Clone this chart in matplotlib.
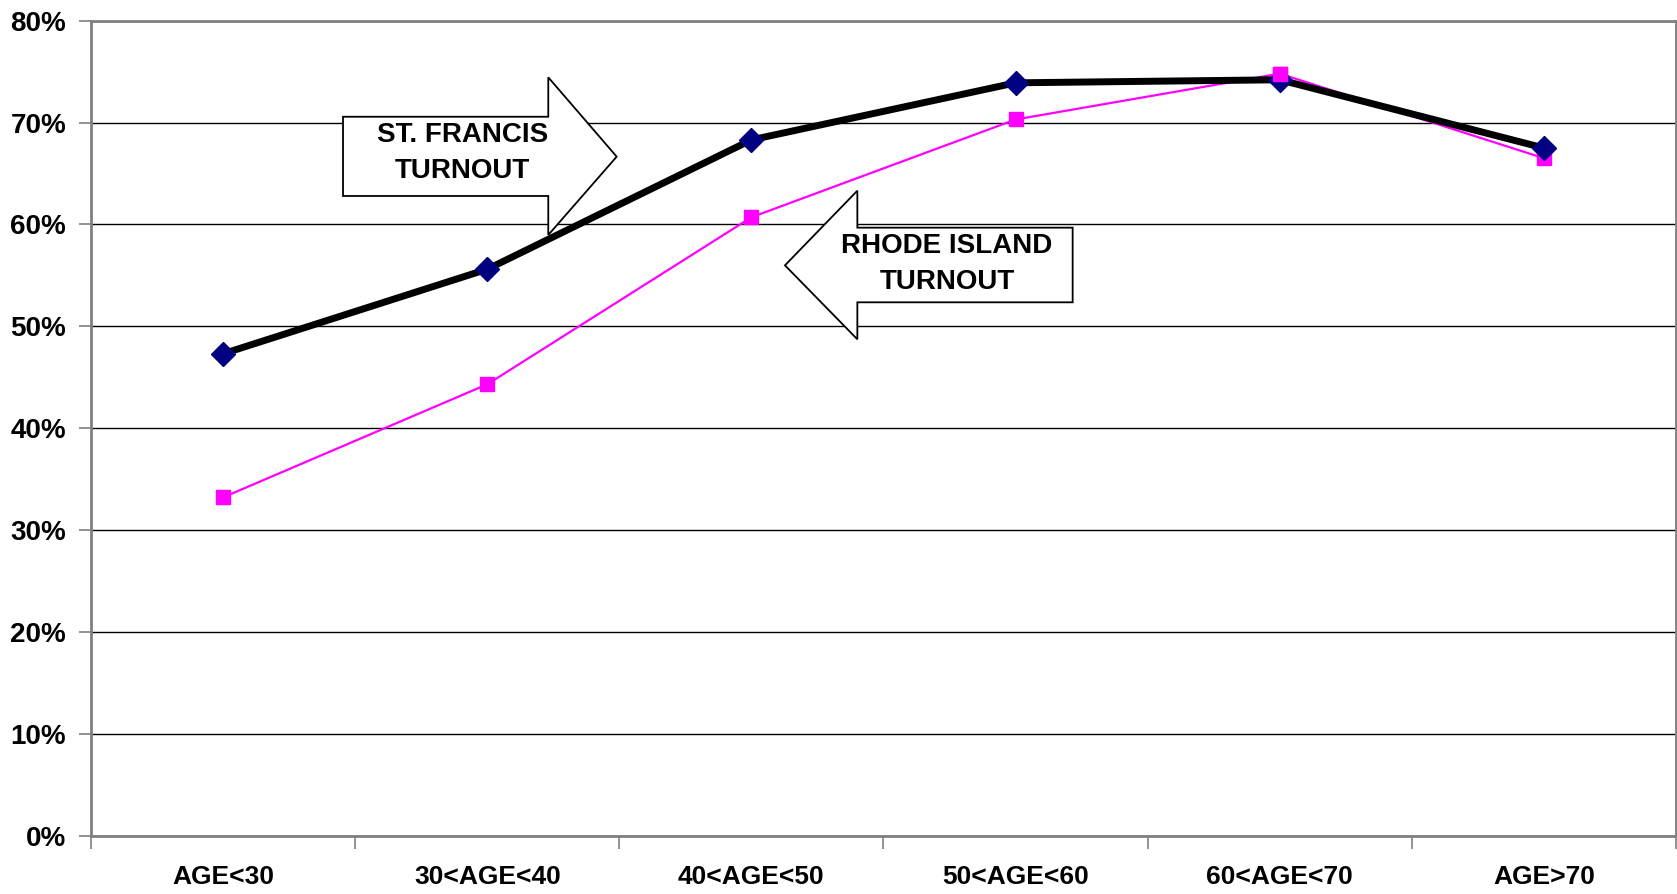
"""
Voter turnout by age group: St. Francis vs Rhode Island.
"""

import matplotlib
matplotlib.use("Agg")
import matplotlib.pyplot as plt
from matplotlib.patches import Polygon
from matplotlib.ticker import FixedLocator

AGE_GROUPS = ["AGE<30", "30<AGE<40", "40<AGE<50", "50<AGE<60", "60<AGE<70", "AGE>70"]
ST_FRANCIS = [47.3, 55.6, 68.3, 73.9, 74.2, 67.5]
RHODE_ISLAND = [33.2, 44.3, 60.7, 70.3, 74.8, 66.5]
Y_TICKS = [0, 10, 20, 30, 40, 50, 60, 70, 80]

FONT = "Liberation Sans"
SPINE_GREY = "#808080"

plt.rcParams["font.family"] = [FONT, "DejaVu Sans"]
plt.rcParams["font.weight"] = "bold"

fig = plt.figure(figsize=(16.77, 8.94), dpi=100)
ax = fig.add_axes([91 / 1677, 58.5 / 894, 1585 / 1677, 814.8 / 894])

x = list(range(len(AGE_GROUPS)))

ax.plot(x, RHODE_ISLAND, color="#FF00FF", lw=1.6, marker="s", ms=10,
        markerfacecolor="#FF00FF", markeredgecolor="#FF00FF", zorder=3)
ax.plot(x, ST_FRANCIS, color="black", lw=5, marker="D", ms=12,
        markerfacecolor="#000080", markeredgecolor="#000080", zorder=4)
# RI marker at 60-70 sits on top of the diamond in the original
ax.plot(x[4:5], RHODE_ISLAND[4:5], ls="none", marker="s", ms=10,
        color="#FF00FF", zorder=5)

ax.set_xlim(-0.5, len(AGE_GROUPS) - 0.5)
ax.set_ylim(0, 80)

ax.set_yticks(Y_TICKS)
ax.set_yticklabels([f"{v}%" for v in Y_TICKS])
ax.set_xticks(x)
ax.set_xticklabels(AGE_GROUPS)
ax.xaxis.set_minor_locator(FixedLocator([i + 0.5 for i in range(-1, len(AGE_GROUPS))]))

ax.tick_params(axis="y", which="major", length=9, width=1.2, color=SPINE_GREY,
               pad=9, labelsize=20)
ax.tick_params(axis="x", which="major", length=0, pad=21, labelsize=19)
ax.tick_params(axis="x", which="minor", length=9, width=1.2, color=SPINE_GREY)

ax.grid(axis="y", color="black", lw=1.0)
ax.set_axisbelow(True)
for side in ("left", "bottom", "top", "right"):
    ax.spines[side].set_color(SPINE_GREY)
    ax.spines[side].set_linewidth(2)

# block arrow callouts
sf_arrow = Polygon(
    [(0.454, 70.57), (1.231, 70.57), (1.231, 74.44), (1.490, 66.65),
     (1.231, 58.96), (1.231, 62.79), (0.454, 62.79)],
    closed=True, facecolor="white", edgecolor="black", lw=1.3, zorder=6)
ri_arrow = Polygon(
    [(3.216, 59.68), (2.401, 59.68), (2.401, 63.31), (2.127, 55.98),
     (2.401, 48.72), (2.401, 52.35), (3.216, 52.35)],
    closed=True, facecolor="white", edgecolor="black", lw=1.3, zorder=6)
ax.add_patch(sf_arrow)
ax.add_patch(ri_arrow)

txt = dict(ha="center", va="center", fontsize=20, fontweight="bold", zorder=7)
ax.text(0.906, 68.75, "ST. FRANCIS", **txt)
ax.text(0.906, 65.24, "TURNOUT", **txt)
ax.text(2.740, 57.88, "RHODE ISLAND", **txt)
ax.text(2.740, 54.37, "TURNOUT", **txt)

fig.savefig("out.png", dpi=100)
